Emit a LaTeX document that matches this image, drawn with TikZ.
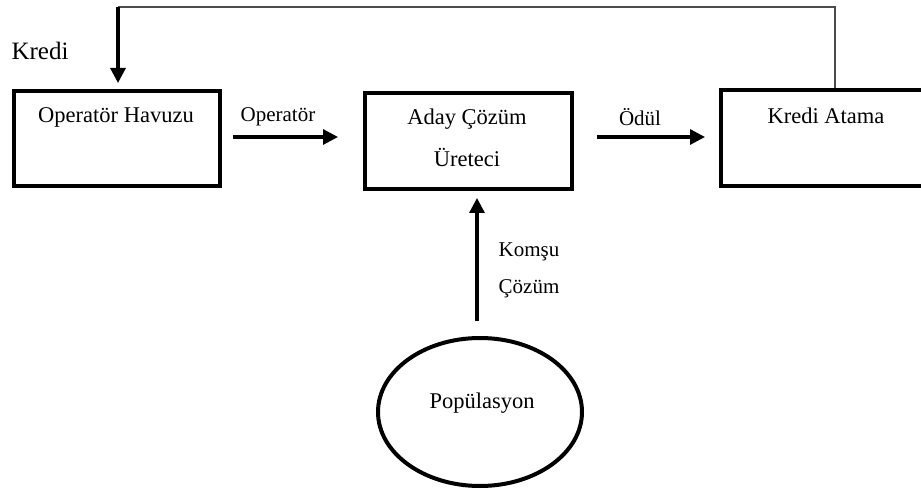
\documentclass[tikz,border=0pt]{standalone}
\usepackage{fontspec}
\setmainfont{Liberation Serif}
\usetikzlibrary{arrows.meta,shapes.geometric}
\begin{document}
\begin{tikzpicture}[x=1pt,y=-1pt,
  boxnode/.style={draw=black, line width=4pt, rectangle, inner sep=0pt},
  txt/.style={inner sep=0pt, font=\fontsize{22.5}{26}\selectfont},
  lbl/.style={inner sep=0pt, font=\fontsize{21}{25}\selectfont},
  arr/.style={line width=3.2pt, -{Triangle[length=15pt,width=15pt]}},
  fb/.style={line width=1.4pt, draw=black!70}]
\useasboundingbox (0,0) rectangle (921,489);
% boxes
\node[boxnode, minimum width=206pt, minimum height=95pt] (pool) at (117,138.5) {};
\node[txt] (pooltxt) at (116,117) {Operatör Havuzu};
\node[boxnode, minimum width=207pt, minimum height=96pt] (gen) at (468.5,141) {};
\node[txt] (gentxt1) at (467,119) {Aday Çözüm};
\node[txt] (gentxt2) at (467,157) {Üreteci};
\node[boxnode, minimum width=210pt, minimum height=96pt] (credit) at (826,138.5) {};
\node[txt] (credittxt) at (826,116) {Kredi Atama};
\node[draw=black, line width=4pt, ellipse, minimum width=204pt, minimum height=148pt, inner sep=0pt] (pop) at (480,412) {};
\node[txt] (poptxt) at (482,403) {Popülasyon};
% arrows
\coordinate (a1s) at (233,137);
\coordinate (a1e) at (338,137);
\draw[arr] (a1s) -- (a1e);
\node[lbl] (l1) at (278,117) {Operatör};
\coordinate (a2s) at (597,137);
\coordinate (a2e) at (705,137);
\draw[arr] (a2s) -- (a2e);
\node[lbl] (l2) at (640,117) {Ödül};
\coordinate (a3s) at (477,321);
\draw[arr] (a3s) -- ([yshift=-7pt]gen.south -| a3s);
\node[lbl] (l3) at (529,252) {Komşu};
\node[lbl] (l4) at (529,289) {Çözüm};
% feedback
\coordinate (c1) at (835,7);
\coordinate (c2) at (118,7);
\draw[fb] (credit.north -| c1) -- (c1) -- (c2);
\draw[arr] (c2) -- ([yshift=6pt]pool.north -| c2);
\node[inner sep=0pt, font=\fontsize{25}{29}\selectfont] (kredi) at (40,51) {Kredi};
\end{tikzpicture}
\end{document}
